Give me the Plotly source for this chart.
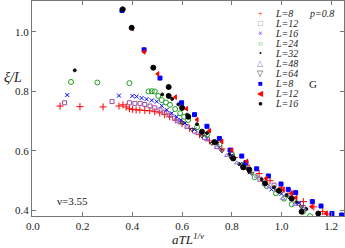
import plotly.graph_objects as go

# ---- data ----
x8 = [0.109,0.189,0.282,0.346,0.362,0.375,0.388,0.40,0.415,0.43,0.45,0.47,0.49,0.51,0.53,0.55,0.575,0.60,0.63,0.67,0.71,0.76,0.81,0.86,0.91,0.954,1.00,1.04,1.088,1.13,1.166,1.183,1.20]
y8 = [0.751,0.749,0.748,0.751,0.755,0.748,0.742,0.740,0.738,0.738,0.736,0.735,0.732,0.728,0.722,0.715,0.704,0.692,0.676,0.655,0.634,0.607,0.578,0.552,0.524,0.500,0.478,0.456,0.430,0.412,0.396,0.388,0.381]

x12 = [0.127,0.318,0.388,0.41,0.431,0.45,0.471,0.49,0.511,0.53,0.551,0.57,0.592,0.62,0.65,0.69,0.74,0.80,0.853,0.913,0.97,1.03,1.068,1.088]
y12 = [0.762,0.766,0.762,0.760,0.760,0.756,0.751,0.745,0.738,0.730,0.721,0.710,0.698,0.682,0.667,0.645,0.615,0.580,0.545,0.505,0.485,0.452,0.424,0.410]

x16 = [0.138,0.346,0.40,0.417,0.437,0.457,0.478,0.498,0.518,0.538,0.558,0.578,0.595,0.612,0.65,0.70,0.75,0.80,0.846,0.873,0.93,0.96,1.00,1.04,1.07]
y16 = [0.788,0.786,0.785,0.783,0.778,0.774,0.770,0.766,0.752,0.738,0.727,0.715,0.704,0.694,0.672,0.642,0.612,0.585,0.556,0.528,0.491,0.471,0.456,0.438,0.425]

x24 = [0.153,0.259,0.388,0.465,0.478,0.49,0.504,0.518,0.535,0.551,0.572,0.592,0.608,0.624,0.66,0.70,0.75,0.80,0.85,0.892,0.94,0.978,1.01,1.041,1.087,1.115]
y24 = [0.832,0.830,0.828,0.800,0.801,0.800,0.785,0.771,0.763,0.755,0.741,0.727,0.715,0.704,0.680,0.655,0.622,0.590,0.555,0.512,0.482,0.458,0.440,0.421,0.396,0.381]

x32 = [0.168,0.52,0.545,0.56,0.585,0.60,0.62,0.66,0.70,0.74,0.79,0.83,0.87,0.92,0.97,1.02,1.06,1.10]
y32 = [0.871,0.790,0.786,0.775,0.757,0.743,0.722,0.690,0.660,0.628,0.588,0.556,0.530,0.505,0.478,0.452,0.428,0.405]

x48 = [0.58,0.62,0.66,0.70,0.74,0.78,0.82,0.86,0.90,0.95,1.005,1.054,1.09]
y48 = [0.700,0.680,0.660,0.638,0.612,0.585,0.560,0.542,0.515,0.480,0.441,0.421,0.405]

x64 = [0.60,0.64,0.68,0.72,0.76,0.80,0.84,0.88,0.93,0.98,1.03,1.08]
y64 = [0.695,0.672,0.650,0.625,0.600,0.575,0.550,0.525,0.495,0.468,0.445,0.412]

xg8 = [0.358,0.447,0.511,0.598,0.65,0.70,0.75,0.793,0.840,0.857,0.90,0.947,0.998,1.027,1.057,1.124,1.159,1.203,1.242]
yg8 = [1.072,0.940,0.845,0.762,0.722,0.683,0.642,0.603,0.583,0.561,0.540,0.516,0.489,0.471,0.460,0.430,0.415,0.390,0.385]

xg12 = [0.40,0.447,0.502,0.573,0.618,0.66,0.71,0.76,0.80,0.86,0.938,1.007,1.041,1.058,1.121,1.18]
yg12 = [1.012,0.933,0.859,0.781,0.742,0.705,0.668,0.632,0.603,0.565,0.508,0.469,0.458,0.443,0.413,0.390]

xg16 = [0.361,0.397,0.484,0.546,0.546,0.60,0.625,0.68,0.73,0.806,0.846,0.87,0.934,0.99,1.041,1.081,1.148]
yg16 = [1.076,1.014,0.880,0.815,0.785,0.745,0.715,0.665,0.630,0.575,0.545,0.538,0.491,0.466,0.440,0.396,0.390]

labels = ["L=8", "L=12", "L=16", "L=24", "L=32", "L=48", "L=64", "L=8", "L=12", "L=16"]
xs = [x8, x12, x16, x24, x32, x48, x64, xg8, xg12, xg16]
ys = [y8, y12, y16, y24, y32, y48, y64, yg8, yg12, yg16]
colors = ["#ff0000", "#9a4f9a", "#0000ff", "#1e9e1e", "#111111", "#9370db", "#333333", "#0000ff", "#ff0000", "#000000"]
symbols = ["cross-thin", "square-open", "x-thin", "circle-open", "circle", "triangle-up-open", "triangle-down-open", "square", "triangle-left", "circle"]
sizes = [5, 4, 4, 5, 3, 4, 4, 4, 4, 5]
glyphs = ["+", "□", "×", "○", "•", "△", "▽", "■", "◀", "●"]

xticks = [0.0, 0.2, 0.4, 0.6, 0.8, 1.0, 1.2]
yticks = [0.4, 0.6, 0.8, 1.0]

FONT = "Liberation Serif, Times New Roman, serif"

fig = go.Figure()
for xv, yv, c, s, sz, lab in zip(xs, ys, colors, symbols, sizes, labels):
    fig.add_trace(go.Scatter(
        x=xv, y=yv, mode="markers", name=lab, showlegend=False,
        marker=dict(symbol=s, size=sz, color=c, line=dict(color=c, width=1)),
    ))

# legend drawn as text annotations (paper coordinates)
ann = []
y0, dy = 0.944, 0.0465
for i, (lab, c, g) in enumerate(zip(labels, colors, glyphs)):
    yy = y0 - i * dy
    ann.append(dict(x=0.731, y=yy, xref="paper", yref="paper", text=g, showarrow=False,
                    font=dict(family=FONT, size=8, color=c), xanchor="center", yanchor="middle"))
    ann.append(dict(x=0.772, y=yy, xref="paper", yref="paper", text="<i>%s</i>" % lab, showarrow=False,
                    font=dict(family=FONT, size=10, color="#222"), xanchor="left", yanchor="middle"))

ann += [
    dict(x=0.929, y=0.944, xref="paper", yref="paper", text="<i>p=0.8</i>", showarrow=False,
         font=dict(family=FONT, size=10, color="#222"), xanchor="center", yanchor="middle"),
    dict(x=0.90, y=0.614, xref="paper", yref="paper", text="G", showarrow=False,
         font=dict(family=FONT, size=11, color="#222"), xanchor="center", yanchor="middle"),
    dict(x=0.131, y=0.068, xref="paper", yref="paper", text="ν=3.55", showarrow=False,
         font=dict(family=FONT, size=11, color="#222"), xanchor="center", yanchor="middle"),
    dict(x=-0.062, y=0.642, xref="paper", yref="paper", text="<i>ξ/L</i>", showarrow=False,
         font=dict(family=FONT, size=14, color="#222"), xanchor="center", yanchor="middle"),
    dict(x=0.50, y=-0.108, xref="paper", yref="paper", text="<i>aTL</i><sup><i>1/ν</i></sup>", showarrow=False,
         font=dict(family=FONT, size=13, color="#222"), xanchor="center", yanchor="middle"),
]

axis_common = dict(
    showline=True, linecolor="#777", linewidth=1, mirror="ticks",
    ticks="inside", ticklen=4, tickcolor="#777", showgrid=False, zeroline=False,
    tickfont=dict(family=FONT, size=11, color="#222"),
)

fig.update_layout(
    width=345, height=248,
    margin=dict(l=32, r=1, t=1, b=32),
    paper_bgcolor="white", plot_bgcolor="white",
    xaxis=dict(range=[-0.004, 1.2515], tickvals=xticks, ticktext=["%.1f" % v for v in xticks], **axis_common),
    yaxis=dict(range=[0.3815, 1.104], tickvals=yticks, ticktext=["%.1f" % v for v in yticks], **axis_common),
    annotations=ann,
    showlegend=False,
)

fig.write_html(
    "out.html",
    config={"displayModeBar": False},
    post_script="document.body.style.margin='0';document.body.style.overflow='hidden';",
)
